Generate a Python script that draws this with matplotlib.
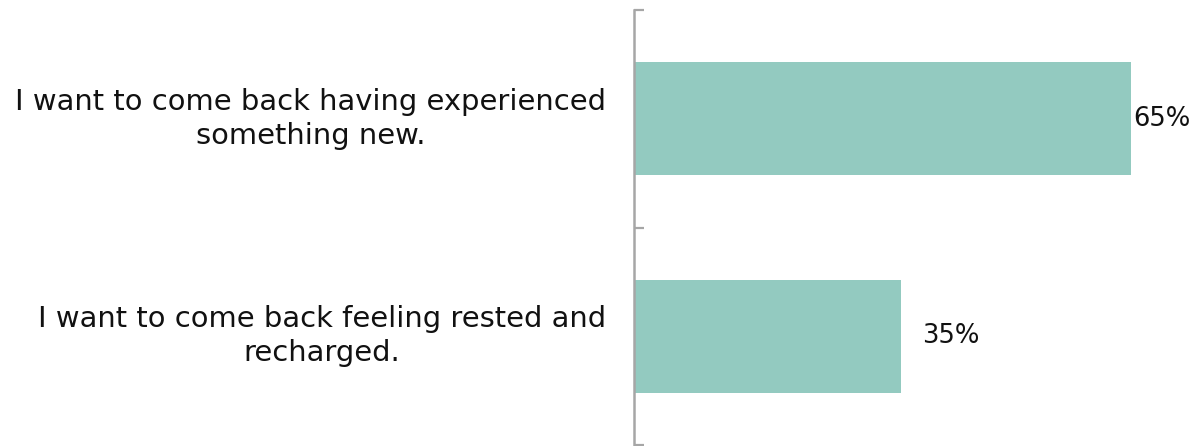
import matplotlib.pyplot as plt

categories = ['I want to come back having experienced\nsomething new.',
              'I want to come back feeling rested and\nrecharged.']
values = [65, 35]
value_labels = ['65%', '35%']

bar_color = '#93cac0'
axis_color = '#a6a6a6'

fig = plt.figure(figsize=(11.97, 4.46), dpi=100)
ax = fig.add_axes([0.5297, 0.002, 0.4703, 0.9756])

pos = list(range(len(categories)))
ax.barh(pos, values, height=0.52, color=bar_color)
ax.set_ylim(len(categories) - 0.5, -0.5)
ax.set_xlim(0, 73.7)

# category labels, centered lines, block right-aligned left of the axis
ax.set_yticks(pos)
ax.set_yticklabels([])
for p, c in zip(pos, categories):
    ax.annotate(c, xy=(0, p), xytext=(-28, 0), textcoords='offset pixels',
                ha='right', va='center', multialignment='center',
                fontsize=20.9, color='#111111', linespacing=1.28)

# boundary ticks on the axis
ax.set_yticks([-0.5, 0.5, 1.5], minor=True)
ax.tick_params(axis='y', which='major', length=0)
ax.tick_params(axis='y', which='minor', direction='in', length=7.5,
               width=1.6, color=axis_color)
ax.set_xticks([])

for s in ['top', 'right', 'bottom']:
    ax.spines[s].set_visible(False)
ax.spines['left'].set_color(axis_color)
ax.spines['left'].set_linewidth(1.8)

for p, v, lab in zip(pos, values, value_labels):
    off = 3 if v > 50 else 21
    ax.annotate(lab, xy=(v, p), xytext=(off, 0), textcoords='offset pixels',
                ha='left', va='center', fontsize=18.6, color='#111111')

fig.savefig('out.png', dpi=100)
